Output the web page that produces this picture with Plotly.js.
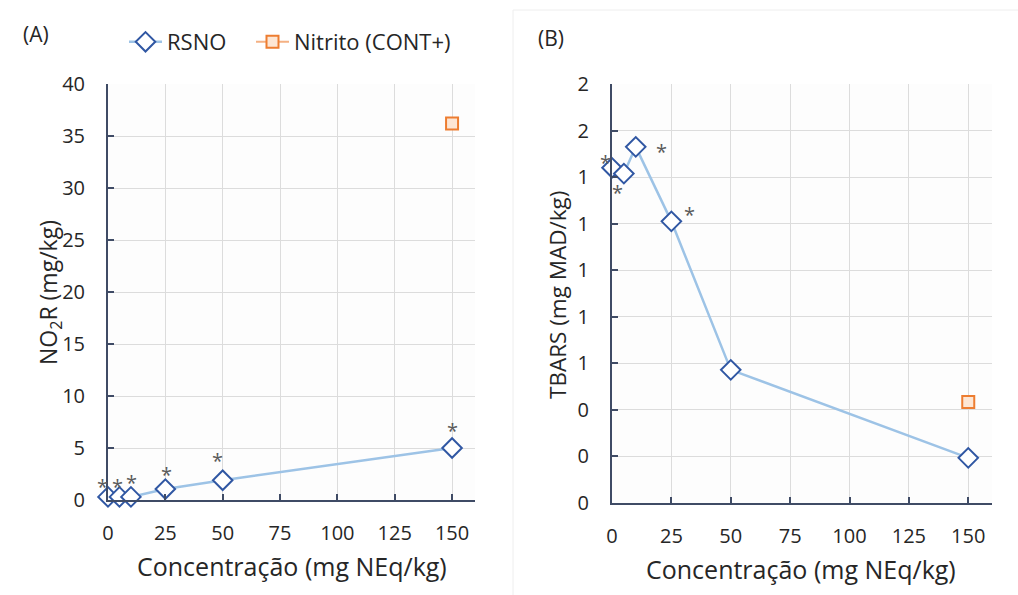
<!DOCTYPE html>
<html>
<head>
<meta charset="utf-8">
<script src="https://cdn.plot.ly/plotly-3.0.1.min.js"></script>
<style>
  html, body { margin: 0; padding: 0; background: #ffffff; }
  #chart { width: 1018px; height: 595px; }
</style>
</head>
<body>
<div id="chart"></div>
<script>
// Concentrations of RSNO (mg NEq/kg)
const concentracao = [0, 5, 10, 25, 50, 150];

// Panel A: residual nitrite (mg/kg)
const no2rRSNO = [0.3, 0.3, 0.3, 1.05, 1.9, 5.0];
const no2rNitritoX = [150];
const no2rNitrito = [36.2];

// Panel B: TBARS (mg MAD/kg)
const tbarsRSNO = [1.44, 1.415, 1.53, 1.21, 0.572, 0.194];
const tbarsNitritoX = [150];
const tbarsNitrito = [0.434];

// Points flagged as significant (*), by concentration
const signifA = [0, 5, 10, 25, 50, 150];
const signifB = [0, 5, 10, 25];

// Axis ticks
const xTicks = [0, 25, 50, 75, 100, 125, 150];
const yTicksA = [0, 5, 10, 15, 20, 25, 30, 35, 40];
const yTicksB = [0, 0.2, 0.4, 0.6, 0.8, 1.0, 1.2, 1.4, 1.6, 1.8];
const yTickTextB = ['0', '0', '0', '1', '1', '1', '1', '1', '2', '2'];

// Titles
const xTitle = 'Concentração (mg NEq/kg)';
const yTitleA = 'NO<sub>2</sub>R (mg/kg)';
const yTitleB = 'TBARS (mg MAD/kg)';

const FONT = 'Open Sans, DejaVu Sans, sans-serif';
const TEXT = '#262626';
const AXIS = '#3f4b65';
const GRID = '#dcdcdc';
const LINE_BLUE = '#9dc3e6';
const MARK_BLUE = '#3057a3';
const ORANGE = '#ed7d31';

const rsnoMarker = { symbol: 'diamond', size: 15, color: '#ffffff', line: { color: MARK_BLUE, width: 2 } };
const nitMarker = { symbol: 'square', size: 12, color: '#fde6d4', line: { color: ORANGE, width: 2 } };

// Pixel offsets of each asterisk from the point it marks
const starOffsetA = [[-6, 10], [-2, 10], [1, 14], [1, 15], [-5, 20], [0, 18]];
const starOffsetB = [[-7, 5], [-6, -19], [26, -5], [18, 7]];
const starFont = { family: FONT, size: 20, color: '#5a5a5a' };

const traces = [
  {
    x: concentracao, y: no2rRSNO, xaxis: 'x', yaxis: 'y',
    name: 'RSNO', mode: 'lines+markers',
    line: { color: LINE_BLUE, width: 2.5 },
    marker: rsnoMarker, cliponaxis: false, legend: 'legend'
  },
  {
    x: no2rNitritoX, y: no2rNitrito, xaxis: 'x', yaxis: 'y',
    name: 'Nitrito (CONT+)', mode: 'lines+markers',
    line: { color: '#f4b183', width: 2 },
    marker: nitMarker, cliponaxis: false, legend: 'legend2'
  },
  {
    x: concentracao, y: tbarsRSNO, xaxis: 'x2', yaxis: 'y2',
    name: 'RSNO', mode: 'lines+markers', showlegend: false,
    line: { color: LINE_BLUE, width: 2.5 },
    marker: rsnoMarker, cliponaxis: false
  },
  {
    x: tbarsNitritoX, y: tbarsNitrito, xaxis: 'x2', yaxis: 'y2',
    name: 'Nitrito (CONT+)', mode: 'markers', showlegend: false,
    marker: nitMarker, cliponaxis: false
  }
];

function xAxis(domain, anchor) {
  return {
    domain: domain, anchor: anchor, range: [0, 160],
    tickmode: 'array', tickvals: xTicks,
    ticks: 'inside', ticklen: 6, tickwidth: 2, tickcolor: AXIS,
    showline: true, linecolor: AXIS, linewidth: 2,
    showgrid: true, gridcolor: GRID, gridwidth: 1,
    zeroline: false,
    tickfont: { family: FONT, size: 20, color: TEXT },
    ticklabelstandoff: 14
  };
}

function yAxis(domain, anchor, range, vals, text) {
  const ax = {
    domain: domain, anchor: anchor, range: range,
    tickmode: 'array', tickvals: vals,
    ticks: 'inside', ticklen: 6, tickwidth: 2, tickcolor: AXIS,
    showline: true, linecolor: AXIS, linewidth: 2,
    showgrid: true, gridcolor: GRID, gridwidth: 1,
    zeroline: false,
    tickfont: { family: FONT, size: 20, color: TEXT },
    ticklabelstandoff: 17
  };
  if (text) ax.ticktext = text;
  return ax;
}

const P = (px) => px / 1018;
const Q = (py) => 1 - py / 595;

// Asterisk annotations, anchored on the marked points
function stars(xs, seriesX, seriesY, offsets, xref, yref) {
  return xs.map((x, i) => ({
    text: '*', x: x, y: seriesY[seriesX.indexOf(x)], xref: xref, yref: yref, showarrow: false,
    xshift: offsets[i][0], yshift: offsets[i][1],
    font: starFont, xanchor: 'center', yanchor: 'middle'
  }));
}

const legendBase = {
  orientation: 'h', yanchor: 'middle', xanchor: 'left', y: Q(42),
  font: { family: FONT, size: 22, color: TEXT },
  itemwidth: 33, bgcolor: 'rgba(0,0,0,0)'
};

const layout = {
  width: 1018, height: 595,
  margin: { l: 0, r: 0, t: 0, b: 0 },
  paper_bgcolor: '#ffffff', plot_bgcolor: '#fdfdfd',
  font: { family: FONT, color: TEXT },
  showlegend: true,
  legend: Object.assign({}, legendBase, { x: P(124) }),
  legend2: Object.assign({}, legendBase, { x: P(251) }),
  xaxis: xAxis([P(108), P(475)], 'y'),
  yaxis: yAxis([1 - 500 / 595, Q(84)], 'x', [0, 40], yTicksA, null),
  xaxis2: xAxis([P(612), P(992)], 'y2'),
  yaxis2: yAxis([1 - 503 / 595, Q(84)], 'x2', [0, 1.8], yTicksB, yTickTextB),
  shapes: [
    {
      type: 'rect', xref: 'paper', yref: 'paper',
      x0: P(513), x1: 1.02, y0: -0.02, y1: Q(10),
      line: { color: '#eeeeee', width: 1 }, fillcolor: 'rgba(0,0,0,0)', layer: 'below'
    }
  ],
  annotations: [
    { text: '(A)', xref: 'paper', yref: 'paper', x: P(36), y: Q(34), showarrow: false,
      font: { family: FONT, size: 21, color: TEXT }, xanchor: 'center', yanchor: 'middle' },
    { text: '(B)', xref: 'paper', yref: 'paper', x: P(551), y: Q(38), showarrow: false,
      font: { family: FONT, size: 21, color: TEXT }, xanchor: 'center', yanchor: 'middle' },
    { text: xTitle, xref: 'paper', yref: 'paper', x: P(292), y: Q(566), showarrow: false,
      font: { family: FONT, size: 25, color: TEXT }, xanchor: 'center', yanchor: 'middle' },
    { text: xTitle, xref: 'paper', yref: 'paper', x: P(801), y: Q(569), showarrow: false,
      font: { family: FONT, size: 25, color: TEXT }, xanchor: 'center', yanchor: 'middle' },
    { text: yTitleA, xref: 'paper', yref: 'paper', x: P(49), y: Q(293), showarrow: false, textangle: -90,
      font: { family: FONT, size: 23, color: TEXT }, xanchor: 'center', yanchor: 'middle' },
    { text: yTitleB, xref: 'paper', yref: 'paper', x: P(557), y: Q(295), showarrow: false, textangle: -90,
      font: { family: FONT, size: 22.5, color: TEXT }, xanchor: 'center', yanchor: 'middle' }
  ].concat(
    stars(signifA, concentracao, no2rRSNO, starOffsetA, 'x', 'y'),
    stars(signifB, concentracao, tbarsRSNO, starOffsetB, 'x2', 'y2')
  )
};

Plotly.newPlot('chart', traces, layout, { staticPlot: true, displayModeBar: false });
</script>
</body>
</html>
